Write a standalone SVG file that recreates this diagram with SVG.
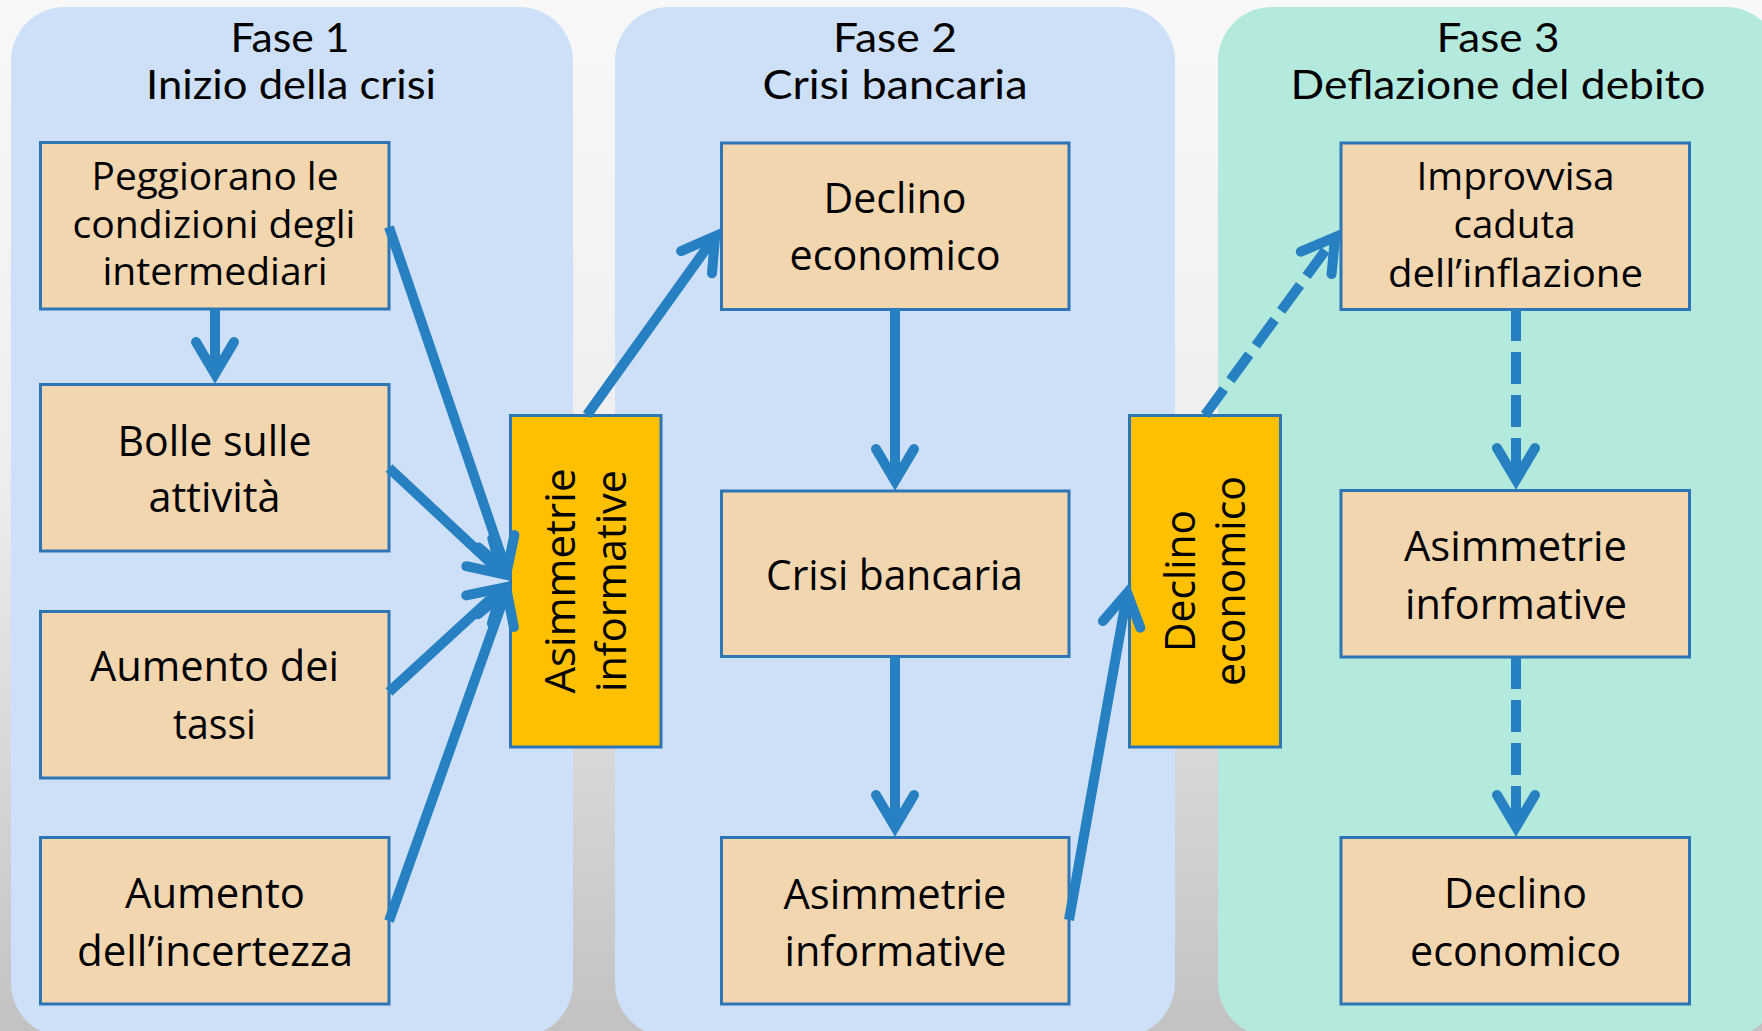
<svg xmlns="http://www.w3.org/2000/svg" width="1762" height="1031" viewBox="0 0 1762 1031">
<defs>
  <linearGradient id="bg" x1="0" y1="0" x2="0" y2="1">
    <stop offset="0" stop-color="#f8f8f8"/>
    <stop offset="0.45" stop-color="#eeeeee"/>
    <stop offset="1" stop-color="#c2c2c2"/>
  </linearGradient>
  <marker id="ah" markerUnits="userSpaceOnUse" viewBox="-40 -30 60 60" refX="0" refY="0" markerWidth="60" markerHeight="60" orient="auto" overflow="visible">
    <path d="M -27 -19 L 5 0 L -27 19" fill="none" stroke="#2680C2" stroke-width="10" stroke-linecap="round" stroke-linejoin="miter" stroke-miterlimit="10"/>
  </marker>
  <style>
    .panel-blue { fill: #CDE0F7; }
    .panel-mint { fill: #B4EADD; }
    .title { font-family: Lato, "Open Sans", sans-serif; font-size: 40px; fill: #000; text-anchor: middle; }
    .box { fill: #F1D6B0; stroke: #2E75B6; stroke-width: 3; }
    .obox { fill: #FFC000; stroke: #2E75B6; stroke-width: 3; }
    .t { font-family: "Open Sans", "Noto Sans", sans-serif; font-size: 42px; fill: #000; text-anchor: middle; }
    .ts { font-size: 38px; }
    .c { fill: none; stroke: #2680C2; stroke-width: 10; stroke-linecap: butt; marker-end: url(#ah); }
    .d { stroke-dasharray: 32 11; }
  </style>
</defs>

<rect x="0" y="0" width="1762" height="1031" fill="url(#bg)"/>

<g id="panel1">
  <rect class="panel-blue" x="11" y="7" width="562" height="1030" rx="54" ry="54"/>
  <text class="title" x="290" y="52" textLength="119" lengthAdjust="spacingAndGlyphs">Fase 1</text>
  <text class="title" x="291" y="99" textLength="290" lengthAdjust="spacingAndGlyphs">Inizio della crisi</text>
</g>
<g id="panel2">
  <rect class="panel-blue" x="615" y="7" width="560" height="1030" rx="54" ry="54"/>
  <text class="title" x="895" y="52" textLength="124" lengthAdjust="spacingAndGlyphs">Fase 2</text>
  <text class="title" x="895" y="99" textLength="265" lengthAdjust="spacingAndGlyphs">Crisi bancaria</text>
</g>
<g id="panel3">
  <rect class="panel-mint" x="1218" y="7" width="562" height="1030" rx="54" ry="54"/>
  <text class="title" x="1498" y="52" textLength="123" lengthAdjust="spacingAndGlyphs">Fase 3</text>
  <text class="title" x="1498" y="99" textLength="415" lengthAdjust="spacingAndGlyphs">Deflazione del debito</text>
</g>

<g id="n-peggiorano">
  <rect class="box" x="40.5" y="142.5" width="348.5" height="166.5"/>
  <text class="t ts" x="215" y="190" textLength="247" lengthAdjust="spacingAndGlyphs">Peggiorano le</text>
  <text class="t ts" x="214" y="237.5" textLength="283" lengthAdjust="spacingAndGlyphs">condizioni degli</text>
  <text class="t ts" x="215" y="285" textLength="225" lengthAdjust="spacingAndGlyphs">intermediari</text>
</g>
<g id="n-bolle">
  <rect class="box" x="40.5" y="384.5" width="348.5" height="166.5"/>
  <text class="t" x="214.5" y="455.5" textLength="194" lengthAdjust="spacingAndGlyphs">Bolle sulle</text>
  <text class="t" x="214.5" y="512" textLength="132" lengthAdjust="spacingAndGlyphs">attività</text>
</g>
<g id="n-tassi">
  <rect class="box" x="40.5" y="611.5" width="348.5" height="166.5"/>
  <text class="t" x="214.5" y="681" textLength="249" lengthAdjust="spacingAndGlyphs">Aumento dei</text>
  <text class="t" x="214.5" y="739" textLength="83" lengthAdjust="spacingAndGlyphs">tassi</text>
</g>
<g id="n-incertezza">
  <rect class="box" x="40.5" y="837.5" width="348.5" height="166.5"/>
  <text class="t" x="215" y="908" textLength="180" lengthAdjust="spacingAndGlyphs">Aumento</text>
  <text class="t" x="215" y="966" textLength="276" lengthAdjust="spacingAndGlyphs">dell’incertezza</text>
</g>

<g id="n-asimmetrie1">
  <rect class="obox" x="510.5" y="415.5" width="150.5" height="331.5"/>
  <g transform="translate(585.5 581) rotate(-90)">
    <text class="t" x="0" y="-11" textLength="225" lengthAdjust="spacingAndGlyphs">Asimmetrie</text>
    <text class="t" x="0" y="40.5" textLength="222" lengthAdjust="spacingAndGlyphs">informative</text>
  </g>
</g>

<g id="n-declino2">
  <rect class="box" x="721.5" y="143" width="347.5" height="166.5"/>
  <text class="t" x="895" y="213" textLength="143" lengthAdjust="spacingAndGlyphs">Declino</text>
  <text class="t" x="895" y="270" textLength="211" lengthAdjust="spacingAndGlyphs">economico</text>
</g>
<g id="n-crisi">
  <rect class="box" x="721.5" y="491" width="347.5" height="165.5"/>
  <text class="t" x="894.5" y="590" textLength="257" lengthAdjust="spacingAndGlyphs">Crisi bancaria</text>
</g>
<g id="n-asimmetrie2">
  <rect class="box" x="721.5" y="837.5" width="347.5" height="166.5"/>
  <text class="t" x="895" y="908.5" textLength="223" lengthAdjust="spacingAndGlyphs">Asimmetrie</text>
  <text class="t" x="895.5" y="966" textLength="222" lengthAdjust="spacingAndGlyphs">informative</text>
</g>

<g id="n-declino-o">
  <rect class="obox" x="1129.5" y="415.5" width="151" height="331.5"/>
  <g transform="translate(1205 581) rotate(-90)">
    <text class="t" x="0" y="-10" textLength="142" lengthAdjust="spacingAndGlyphs">Declino</text>
    <text class="t" x="0" y="40" textLength="210" lengthAdjust="spacingAndGlyphs">economico</text>
  </g>
</g>

<g id="n-improvvisa">
  <rect class="box" x="1341" y="143" width="348.5" height="166.5"/>
  <text class="t ts" x="1515.5" y="190" textLength="198" lengthAdjust="spacingAndGlyphs">Improvvisa</text>
  <text class="t ts" x="1514.5" y="238" textLength="122" lengthAdjust="spacingAndGlyphs">caduta</text>
  <text class="t ts" x="1515.5" y="286.5" textLength="255" lengthAdjust="spacingAndGlyphs">dell’inflazione</text>
</g>
<g id="n-asimmetrie3">
  <rect class="box" x="1341" y="490.5" width="348.5" height="166.5"/>
  <text class="t" x="1515.5" y="561" textLength="223" lengthAdjust="spacingAndGlyphs">Asimmetrie</text>
  <text class="t" x="1516" y="618.5" textLength="222" lengthAdjust="spacingAndGlyphs">informative</text>
</g>
<g id="n-declino3">
  <rect class="box" x="1341" y="837.5" width="348.5" height="166.5"/>
  <text class="t" x="1515.5" y="908" textLength="143" lengthAdjust="spacingAndGlyphs">Declino</text>
  <text class="t" x="1515.5" y="965.5" textLength="211" lengthAdjust="spacingAndGlyphs">economico</text>
</g>

<g id="connectors">
  <line class="c" x1="215" y1="309" x2="215" y2="369"/>
  <line class="c" x1="389" y1="227" x2="505.15" y2="566.8"/>
  <line class="c" x1="389" y1="468" x2="499.04" y2="570.76"/>
  <line class="c" x1="389" y1="692" x2="498.95" y2="591.14"/>
  <line class="c" x1="389" y1="921" x2="504.97" y2="595.13"/>
  <line class="c" x1="587" y1="415" x2="712.26" y2="240.19"/>
  <line class="c" x1="895" y1="309" x2="895" y2="476"/>
  <line class="c" x1="895" y1="656" x2="895" y2="822"/>
  <line class="c" x1="1069" y1="920" x2="1126.37" y2="597.77"/>
  <line class="c d" x1="1205" y1="415" x2="1332.15" y2="241.11"/>
  <line class="c d" x1="1516" y1="309" x2="1516" y2="475"/>
  <line class="c d" x1="1516" y1="657" x2="1516" y2="822"/>
</g>
</svg>
